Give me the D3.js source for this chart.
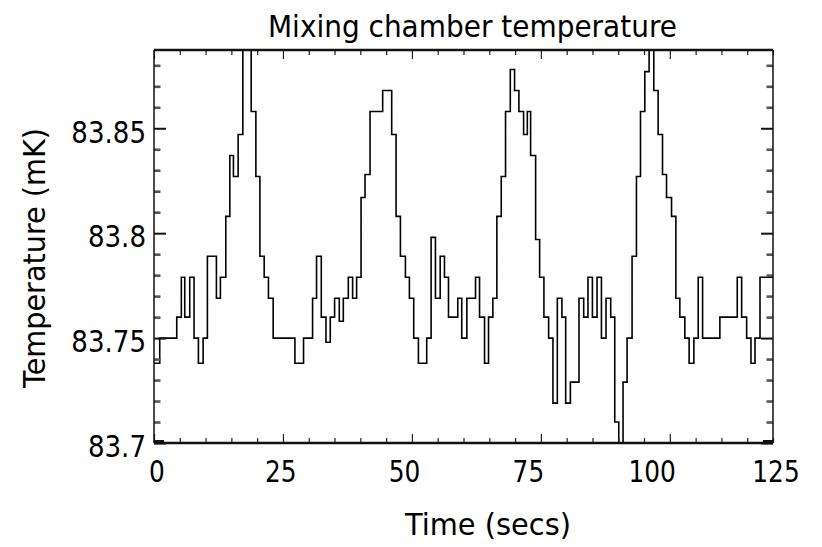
<!DOCTYPE html>
<html>
<head>
<meta charset="utf-8">
<script src="https://cdnjs.cloudflare.com/ajax/libs/d3/7.8.5/d3.min.js"></script>
<style>
  body { margin: 0; background: #fff; }
  text { font-family: "DejaVu Sans", Verdana, sans-serif; fill: #000; }
</style>
</head>
<body>
<script>
// sample times (s) where the reading changes, and the readings (mK)
var times = [0, 1.11, 4.41, 5.30, 5.96, 6.93, 7.76, 8.61, 9.52, 10.35, 12.10, 12.87, 13.92, 14.70, 15.40, 16.31,
  17.22, 18.84, 19.75, 20.53, 21.36, 22.19, 23.10, 27.32, 28.99, 30.74, 31.51, 32.43, 33.34, 34.17, 35.01, 35.92,
  36.70, 37.67, 38.50, 39.28, 40.14, 40.91, 41.88, 44.33, 46.08, 46.93, 47.77, 48.74, 49.51, 50.35, 51.26, 52.87,
  53.72, 54.56, 55.48, 56.31, 57.09, 58.89, 59.66, 60.65, 62.33, 63.11, 64.08, 64.85, 65.69, 66.47, 67.32, 68.15,
  69.07, 69.90, 70.74, 71.65, 72.37, 73.01, 73.98, 74.76, 75.59, 76.50, 77.34, 78.19, 79.08, 79.81, 80.72, 82.39,
  83.30, 84.13, 84.99, 85.89, 86.74, 87.63, 88.54, 89.32, 90.10, 90.93, 91.71, 92.68, 93.53, 94.31, 95.15, 95.98,
  96.89, 97.73, 98.58, 99.36, 100.33, 101.17, 101.94, 102.91, 103.74, 104.66, 105.50, 106.35, 109.70, 113.07,
  113.92, 114.89, 115.73, 116.51, 117.48, 120];
var temps = [83.738, 83.750, 83.760, 83.779, 83.760, 83.779, 83.750, 83.738, 83.750, 83.789, 83.769, 83.779, 83.808, 83.837, 83.827, 83.847,
  83.900, 83.858, 83.827, 83.789, 83.779, 83.769, 83.750, 83.738, 83.750, 83.769, 83.789, 83.760, 83.748, 83.760, 83.769, 83.758,
  83.769, 83.779, 83.769, 83.779, 83.817, 83.828, 83.858, 83.868, 83.847, 83.808, 83.789, 83.779, 83.769, 83.750, 83.738, 83.750,
  83.798, 83.769, 83.789, 83.779, 83.760, 83.769, 83.750, 83.769, 83.779, 83.760, 83.738, 83.760, 83.769, 83.808, 83.827, 83.858,
  83.878, 83.868, 83.858, 83.847, 83.858, 83.837, 83.797, 83.779, 83.760, 83.750, 83.719, 83.769, 83.760, 83.719, 83.729, 83.769,
  83.760, 83.779, 83.760, 83.779, 83.750, 83.769, 83.760, 83.710, 83.690, 83.729, 83.750, 83.789, 83.827, 83.858, 83.877, 83.900,
  83.868, 83.847, 83.828, 83.817, 83.808, 83.769, 83.760, 83.750, 83.738, 83.750, 83.779, 83.750, 83.760, 83.779,
  83.760, 83.750, 83.738, 83.750, 83.779, 83.779];

var xLabels = [0, 25, 50, 75, 100, 125];
var yLabels = [83.7, 83.75, 83.8, 83.85];

var W = 822, H = 547;
var plot = {left: 154, right: 773, top: 50, bottom: 443};

var svg = d3.select("body").append("svg")
    .attr("width", W)
    .attr("height", H);

var x = d3.scaleLinear().domain([0, 120]).range([plot.left, plot.right]);
var y = d3.scaleLinear().domain([83.7, 83.8873]).range([plot.bottom, plot.top]);
// the tick labels sit on a slightly different spacing in the original
var xLab = d3.scaleLinear().domain([0, 125]).range([157, 776]);

var data = times.map(function(t, i) { return {t: t, v: temps[i]}; });

svg.append("defs").append("clipPath").attr("id", "clip")
  .append("rect")
    .attr("x", plot.left).attr("y", plot.top)
    .attr("width", plot.right - plot.left)
    .attr("height", plot.bottom - plot.top);

var stepLine = d3.line()
    .curve(d3.curveStepAfter)
    .x(function(d) { return x(d.t); })
    .y(function(d) { return y(d.v); });

svg.append("path")
    .datum(data)
    .attr("clip-path", "url(#clip)")
    .attr("fill", "none")
    .attr("stroke", "#000")
    .attr("stroke-width", 1.6)
    .attr("d", stepLine);

// inward ticks on all four sides
var xMajor = xLabels.filter(function(d) { return d <= 120; });
var xMinor = x.ticks(24).filter(function(d) { return d % 25 !== 0; });
var yMinor = y.ticks(20).filter(function(d) { return Math.abs(d * 20 - Math.round(d * 20)) > 1e-6; });

function tickAxis(axis, tx, ty, vals, size, w, col) {
  var g = svg.append("g")
      .attr("transform", "translate(" + tx + "," + ty + ")")
      .call(axis.tickValues(vals).tickSize(-size).tickFormat(""));
  g.select(".domain").remove();
  g.selectAll(".tick line").attr("stroke", col).attr("stroke-width", w);
  return g;
}

tickAxis(d3.axisBottom(x), 0, plot.bottom, xMinor, 5, 1.2, "#222");
tickAxis(d3.axisBottom(x), 0, plot.bottom, xMajor, 9, 1.2, "#222");
tickAxis(d3.axisTop(x), 0, plot.top, xMinor, 5, 1.2, "#222");
tickAxis(d3.axisTop(x), 0, plot.top, xMajor, 9, 1.2, "#222");
tickAxis(d3.axisLeft(y), plot.left, 0, yMinor, 6.5, 2.6, "#555");
tickAxis(d3.axisLeft(y), plot.left, 0, yLabels, 12, 2, "#111");
tickAxis(d3.axisRight(y), plot.right, 0, yMinor, 6.5, 2.6, "#555");
tickAxis(d3.axisRight(y), plot.right, 0, yLabels, 12, 2, "#111");

// frame
var frame = svg.append("g").attr("stroke", "#111").attr("fill", "none");
frame.append("line").attr("x1", plot.left).attr("x2", plot.right).attr("y1", plot.top).attr("y2", plot.top).attr("stroke-width", 2.6);
frame.append("line").attr("x1", plot.left).attr("x2", plot.right).attr("y1", plot.bottom).attr("y2", plot.bottom).attr("stroke-width", 2.6);
frame.append("line").attr("x1", plot.left).attr("x2", plot.left).attr("y1", plot.top).attr("y2", plot.bottom).attr("stroke-width", 1.5);
frame.append("line").attr("x1", plot.right).attr("x2", plot.right).attr("y1", plot.top).attr("y2", plot.bottom).attr("stroke-width", 1.5);
// heavier corner marks where the 83.7 tick runs along the bottom edge
frame.append("line").attr("x1", plot.left).attr("x2", plot.left + 10).attr("y1", y(83.7) - 1).attr("y2", y(83.7) - 1).attr("stroke-width", 4);
frame.append("line").attr("x1", plot.right - 10).attr("x2", plot.right).attr("y1", y(83.7) - 1).attr("y2", y(83.7) - 1).attr("stroke-width", 4);

// tick labels
svg.append("g").selectAll("g").data(xLabels).enter().append("g")
    .attr("transform", function(d) { return "translate(" + xLab(d) + ",471) scale(0.8,1)"; })
  .append("text")
    .attr("text-anchor", "middle")
    .attr("dy", "0.36em")
    .style("font-size", "31px")
    .text(function(d) { return d; });

svg.append("g").selectAll("g").data(yLabels).enter().append("g")
    .attr("transform", function(d) { return "translate(146," + (y(d) + 3.5) + ") scale(0.87,1)"; })
  .append("text")
    .attr("text-anchor", "end")
    .attr("dy", "0.36em")
    .style("font-size", "30px")
    .text(function(d) { return d; });

// titles
svg.append("text")
    .attr("x", 268).attr("y", 37)
    .attr("textLength", 409).attr("lengthAdjust", "spacingAndGlyphs")
    .style("font-size", "31px")
    .text("Mixing chamber temperature");

svg.append("text")
    .attr("x", 405).attr("y", 535)
    .attr("textLength", 166).attr("lengthAdjust", "spacingAndGlyphs")
    .style("font-size", "31px")
    .text("Time (secs)");

svg.append("text")
    .attr("transform", "translate(45,388) rotate(-90)")
    .attr("textLength", 260).attr("lengthAdjust", "spacingAndGlyphs")
    .style("font-size", "31px")
    .text("Temperature (mK)");
</script>
</body>
</html>
